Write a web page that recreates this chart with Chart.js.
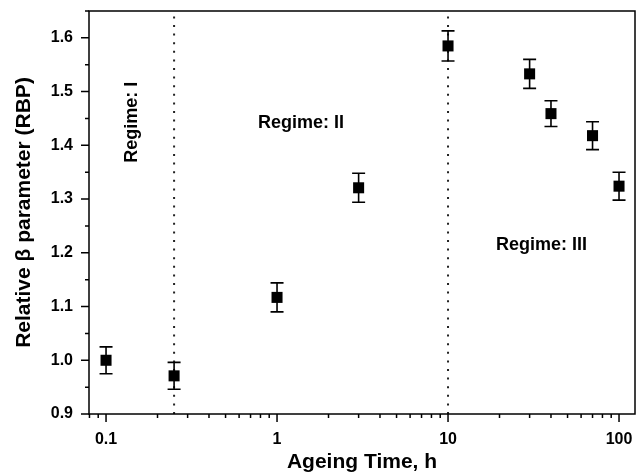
<!DOCTYPE html>
<html>
<head>
<meta charset="utf-8">
<script src="https://cdn.jsdelivr.net/npm/chart.js@4.4.1/dist/chart.umd.min.js"></script>
<style>
html, body { margin: 0; padding: 0; background: #fff; }
#wrap { width: 643px; height: 475px; }
</style>
</head>
<body>
<div id="wrap"><canvas id="rbpChart" width="643" height="475"></canvas></div>
<script>
// Relative beta parameter vs ageing time

const ageingTime = [0.1, 0.25, 1, 3, 10, 30, 40, 70, 100];
const rbpValues = [1.000, 0.971, 1.117, 1.321, 1.585, 1.533, 1.459, 1.418, 1.324];
const rbpErrors = [0.025, 0.025, 0.027, 0.027, 0.028, 0.027, 0.024, 0.026, 0.026];

const regimeBoundaries = [0.25, 10];
const regimeLabels = ["Regime: I", "Regime: II", "Regime: III"];

const xTickLabels = [0.1, 1, 10, 100];
const xMin = 0.0795, xMax = 124;
const yMin = 0.9, yMax = 1.65;

const FONT = '"Liberation Sans", Arial, sans-serif';

// annotation anchors, in data units: [x, y, rotated]
const regimeAnchors = [[0.141, 1.443, true], [1.38, 1.441, false], [35.2, 1.214, false]];

let points = ageingTime.map((t, i) => ({ x: t, y: rbpValues[i] }));

let datasets = [{
	label: "RBP",
	data: points,
	pointStyle: "rect",
	pointRadius: 7.8,
	pointHoverRadius: 7.8,
	backgroundColor: "#000",
	borderWidth: 0
}];

regimeBoundaries.forEach(b => {
	datasets.push({
		label: "boundary",
		data: [{ x: b, y: yMin }, { x: b, y: yMax }],
		showLine: true,
		borderColor: "#222",
		borderWidth: 2,
		borderDash: [2, 6.6],
		pointRadius: 0
	});
});

// error bars drawn through the scales
const errorBars = {
	id: "errorBars",
	afterDatasetsDraw(chart) {
		let ctx = chart.ctx, xs = chart.scales.x, ys = chart.scales.y;
		ctx.save();
		ctx.strokeStyle = "#000";
		ctx.lineWidth = 1.6;
		ageingTime.forEach((t, i) => {
			let px = xs.getPixelForValue(t);
			let top = ys.getPixelForValue(rbpValues[i] + rbpErrors[i]);
			let bot = ys.getPixelForValue(rbpValues[i] - rbpErrors[i]);
			ctx.beginPath();
			ctx.moveTo(px, top); ctx.lineTo(px, bot);
			ctx.moveTo(px - 6.5, top); ctx.lineTo(px + 6.5, top);
			ctx.moveTo(px - 6.5, bot); ctx.lineTo(px + 6.5, bot);
			ctx.stroke();
		});
		ctx.restore();
	}
};

// frame, tick marks, regime labels
const decorations = {
	id: "decorations",
	afterDraw(chart) {
		let ctx = chart.ctx, a = chart.chartArea;
		let xs = chart.scales.x, ys = chart.scales.y;
		ctx.save();
		ctx.strokeStyle = "#000";
		ctx.lineWidth = 1.5;
		ctx.strokeRect(a.left, a.top, a.right - a.left, a.bottom - a.top);

		ctx.beginPath();
		ys.ticks.forEach(tk => {
			let py = ys.getPixelForValue(tk.value);
			let major = Math.abs(tk.value * 10 - Math.round(tk.value * 10)) < 1e-6;
			ctx.moveTo(a.left, py);
			ctx.lineTo(a.left - (major ? 8 : 4), py);
		});
		xs.ticks.forEach(tk => {
			let px = xs.getPixelForValue(tk.value);
			let major = xTickLabels.some(v => Math.abs(v - tk.value) < 1e-9);
			ctx.moveTo(px, a.bottom);
			ctx.lineTo(px, a.bottom + (major ? 8 : 4));
		});
		ctx.stroke();

		ctx.fillStyle = "#000";
		ctx.font = "bold 18px " + FONT;
		ctx.textAlign = "center";
		ctx.textBaseline = "middle";
		regimeAnchors.forEach((r, i) => {
			let px = xs.getPixelForValue(r[0]);
			let py = ys.getPixelForValue(r[1]);
			ctx.save();
			ctx.translate(px, py);
			if (r[2]) ctx.rotate(-Math.PI / 2);
			ctx.fillText(regimeLabels[i], 0, 0);
			ctx.restore();
		});
		ctx.restore();
	}
};

function logTicks(scale) {
	let ticks = [];
	for (let e = -2; e <= 2; e++) {
		for (let m = 1; m <= 9; m++) {
			let v = parseFloat((m * Math.pow(10, e)).toPrecision(3));
			if (v >= xMin && v <= xMax) ticks.push({ value: v });
		}
	}
	scale.ticks = ticks;
}

new Chart(document.getElementById("rbpChart"), {
	type: "scatter",
	data: { datasets: datasets },
	plugins: [errorBars, decorations],
	options: {
		responsive: false,
		animation: false,
		events: [],
		layout: { padding: { top: 11, right: 8, left: 0, bottom: 0 } },
		plugins: { legend: { display: false }, tooltip: { enabled: false } },
		scales: {
			x: {
				type: "logarithmic",
				min: xMin,
				max: xMax,
				afterBuildTicks: logTicks,
				afterFit: s => { s.height = 61; s.paddingLeft = 0; s.paddingRight = 0; },
				border: { display: false },
				grid: { display: true, drawOnChartArea: false, drawTicks: true, tickLength: 8, tickColor: "rgba(0,0,0,0)" },
				ticks: {
					autoSkip: false,
					maxRotation: 0,
					padding: 8,
					color: "#000",
					font: { family: FONT, size: 16, weight: "bold" },
					callback: v => xTickLabels.some(t => Math.abs(t - v) < 1e-9) ? String(v) : ""
				},
				title: {
					display: true,
					text: "Ageing Time, h",
					color: "#000",
					font: { family: FONT, size: 21, weight: "bold" },
					padding: { top: 0, bottom: 0 }
				}
			},
			y: {
				min: yMin,
				max: yMax,
				afterFit: s => { s.width = 89; s.paddingTop = 0; s.paddingBottom = 0; },
				border: { display: false },
				grid: { display: true, drawOnChartArea: false, drawTicks: true, tickLength: 8, tickColor: "rgba(0,0,0,0)" },
				ticks: {
					stepSize: 0.05,
					autoSkip: false,
					padding: 8,
					color: "#000",
					font: { family: FONT, size: 16, weight: "bold" },
					callback: v => Math.abs(v * 10 - Math.round(v * 10)) < 1e-6 ? v.toFixed(1) : ""
				},
				title: {
					display: true,
					text: "Relative β parameter (RBP)",
					color: "#000",
					font: { family: FONT, size: 21, weight: "bold" },
					padding: { top: 12, bottom: 0 }
				}
			}
		}
	}
});
</script>
</body>
</html>
